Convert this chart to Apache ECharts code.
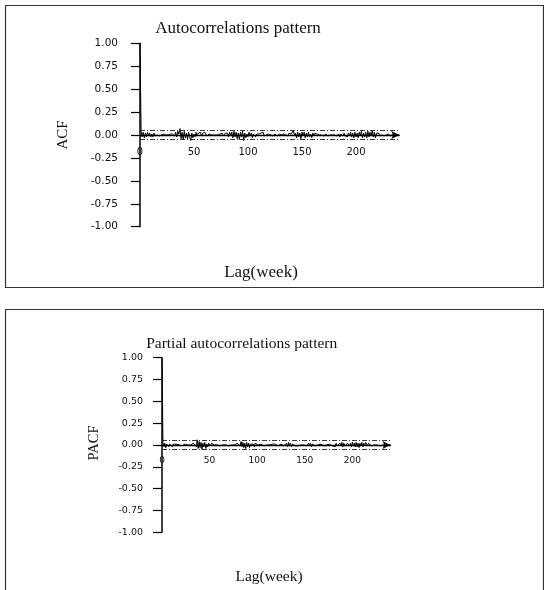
<!DOCTYPE html>
<html>
<head>
<meta charset="utf-8">
<script src="https://cdn.jsdelivr.net/npm/echarts@6/dist/echarts.min.js"></script>
<style>
  html, body { margin: 0; padding: 0; background: #fff; }
  #chart { width: 544px; height: 590px; }
</style>
</head>
<body>
<div id="chart"></div>
<script>
// Sample autocorrelation function, lags 0..240 (weekly data)
const acfValues = [
  1.00,
  0.04, -0.02, 0.03, -0.03, 0.02, -0.02, 0.03, -0.01, 0.02, -0.02,
  0.01, -0.02, 0.02, -0.01, 0.01, 0.00, 0.01, -0.01, 0.01, 0.00,
  0.00, 0.01, -0.01, 0.00, 0.01, 0.00, -0.01, 0.01, 0.00, 0.01,
  0.02, -0.01, 0.03, -0.02, 0.04, 0.01, 0.07, -0.04, 0.03, -0.05,
  0.04, -0.03, 0.02, -0.05, 0.03, -0.02, -0.06, 0.02, -0.03, 0.01,
  -0.02, 0.03, -0.01, 0.02, 0.00, 0.03, -0.01, 0.02, 0.01, 0.03,
  0.01, -0.01, 0.00, 0.01, -0.01, 0.00, 0.01, 0.00, -0.01, 0.00,
  0.01, 0.00, -0.01, 0.01, 0.00, 0.02, -0.01, 0.01, 0.02, 0.01,
  0.02, -0.02, 0.03, -0.01, 0.03, -0.03, 0.04, -0.02, 0.03, -0.04,
  0.02, -0.05, 0.03, -0.02, 0.04, -0.06, 0.02, -0.03, 0.01, -0.02,
  0.03, -0.01, 0.02, -0.03, 0.01, 0.02, -0.02, 0.01, 0.00, 0.01,
  -0.01, 0.02, 0.01, 0.03, -0.01, 0.01, 0.00, -0.01, 0.01, 0.00,
  0.00, 0.01, -0.01, 0.00, 0.01, 0.00, -0.01, 0.00, 0.01, 0.00,
  0.00, -0.01, 0.01, 0.00, 0.00, 0.01, -0.01, 0.02, 0.00, 0.01,
  0.02, 0.05, -0.01, 0.02, -0.03, 0.03, -0.02, 0.02, -0.04, 0.03,
  -0.01, 0.03, -0.03, 0.02, -0.02, 0.03, -0.02, 0.01, -0.03, 0.02,
  -0.01, 0.02, 0.00, 0.01, -0.01, 0.00, 0.01, 0.00, 0.00, -0.01,
  0.00, 0.01, 0.00, -0.01, 0.00, 0.00, 0.01, 0.00, -0.01, 0.00,
  0.01, -0.01, 0.00, 0.01, -0.02, 0.01, 0.00, -0.01, 0.02, -0.01,
  0.01, -0.02, 0.02, -0.01, 0.03, -0.02, 0.02, -0.03, 0.03, -0.02,
  0.02, -0.03, 0.03, -0.01, 0.04, -0.03, 0.02, -0.02, 0.03, -0.03,
  0.04, -0.02, 0.03, -0.01, 0.05, -0.02, 0.03, -0.03, 0.02, 0.01,
  0.02, -0.01, 0.01, 0.00, 0.01, -0.01, 0.01, 0.00, 0.00, 0.01,
  0.00, -0.01, 0.00, 0.01, 0.00, 0.00, -0.01, 0.00, 0.01, 0.00
];

// Sample partial autocorrelation function, lags 0..240
const pacfValues = [
  1.00,
  0.03, -0.02, 0.02, -0.03, 0.01, 0.02, -0.02, 0.01, -0.01, 0.02,
  -0.02, 0.01, 0.00, -0.01, 0.01, 0.00, -0.01, 0.00, 0.01, 0.00,
  -0.01, 0.00, 0.00, 0.01, 0.00, -0.01, 0.00, 0.01, 0.00, 0.00,
  0.01, -0.01, 0.02, 0.00, 0.03, -0.02, 0.06, -0.04, 0.04, -0.03,
  0.03, -0.05, 0.02, -0.02, 0.03, -0.04, 0.01, -0.02, 0.02, 0.00,
  -0.01, 0.02, 0.01, 0.03, 0.00, -0.01, 0.01, 0.00, 0.01, 0.00,
  -0.01, 0.01, 0.00, 0.00, -0.01, 0.01, 0.00, 0.00, 0.01, -0.01,
  0.00, 0.01, 0.00, -0.01, 0.01, 0.00, 0.01, -0.01, 0.02, 0.01,
  0.02, -0.01, 0.04, -0.02, 0.03, -0.03, 0.02, -0.04, 0.03, -0.02,
  0.02, -0.03, 0.01, 0.02, -0.01, 0.01, -0.02, 0.02, 0.01, 0.03,
  0.00, 0.01, -0.01, 0.01, 0.00, 0.00, -0.01, 0.01, 0.00, 0.00,
  0.01, -0.01, 0.00, 0.02, -0.01, 0.01, 0.00, 0.00, 0.01, 0.02,
  0.00, -0.01, 0.01, -0.02, 0.01, 0.00, 0.02, -0.01, 0.01, -0.02,
  0.02, -0.02, 0.03, -0.01, 0.02, -0.02, 0.01, 0.00, 0.01, -0.01,
  0.01, 0.00, -0.01, 0.01, 0.00, 0.00, 0.01, -0.01, 0.00, 0.01,
  0.00, -0.01, 0.01, 0.02, -0.01, 0.02, -0.02, 0.01, 0.00, 0.01,
  -0.01, 0.00, 0.01, 0.00, -0.01, 0.00, 0.01, 0.00, 0.00, -0.01,
  0.00, 0.01, 0.00, 0.00, -0.01, 0.01, 0.00, 0.02, -0.01, 0.01,
  0.00, -0.02, 0.02, -0.01, 0.01, -0.02, 0.02, -0.01, 0.03, -0.02,
  0.02, -0.01, 0.01, -0.02, 0.02, 0.00, -0.01, 0.02, -0.02, 0.03,
  -0.01, 0.02, -0.02, 0.03, -0.02, 0.02, -0.03, 0.02, -0.01, 0.03,
  -0.02, 0.02, -0.01, 0.03, 0.01, -0.01, 0.02, 0.00, 0.01, -0.01,
  0.01, 0.00, 0.00, 0.01, -0.01, 0.00, 0.01, 0.00, -0.01, 0.00,
  0.01, 0.00, 0.00, -0.01, 0.00, 0.01, 0.00, 0.00, 0.00, 0.00
];

// Approximate 95% significance bounds
const confBound = 0.046;

// Axis settings
const lagMax = 240;
const lagTickStep = 50;
const corrTickStep = 0.25;

const toPairs = vals => vals.map((v, i) => [i, v]);

const SERIF = '"Liberation Serif", "Times New Roman", serif';
const SANS = '"DejaVu Sans", sans-serif';

// The lag axis sits on the zero line: shift it up by half the plot height
function xAxisFor(gridIndex, fontSize, margin, halfHeight) {
  return {
    type: 'value', gridIndex: gridIndex, position: 'bottom', offset: -halfHeight,
    min: 0, max: lagMax, interval: lagTickStep,
    axisLine: { onZero: false, symbol: ['none', 'arrow'], symbolSize: [6, 8],
      lineStyle: { color: '#000', width: 1.3 } },
    axisTick: { show: false },
    axisLabel: { color: '#111', fontFamily: SANS, fontSize: fontSize, margin: margin,
      showMaxLabel: false },
    splitLine: { show: false }
  };
}

function yAxisFor(gridIndex, fontSize, margin) {
  return {
    type: 'value', gridIndex: gridIndex,
    min: -1, max: 1, interval: corrTickStep,
    axisLine: { show: true, onZero: false, lineStyle: { color: '#000', width: 1.5 } },
    axisTick: { show: true, length: 9, lineStyle: { color: '#000', width: 1.2 } },
    axisLabel: { color: '#111', fontFamily: SANS, fontSize: fontSize, margin: margin,
      formatter: v => v.toFixed(2) },
    splitLine: { show: false }
  };
}

function corrSeries(idx, values) {
  return {
    type: 'line', xAxisIndex: idx, yAxisIndex: idx,
    data: toPairs(values),
    showSymbol: false, animation: false,
    lineStyle: { color: '#000', width: 1 },
    markLine: {
      silent: true, symbol: ['none', 'none'], animation: false,
      label: { show: false },
      lineStyle: { color: '#222', width: 0.9, type: [5, 2, 1, 2] },
      data: [{ yAxis: confBound }, { yAxis: -confBound }]
    }
  };
}

function label(text, x, y, size, rotate) {
  return {
    type: 'text', x: x, y: y, rotation: rotate ? Math.PI / 2 : 0,
    style: { text: text, fill: '#111', font: size + 'px ' + SERIF,
      textAlign: 'center', textVerticalAlign: 'middle' }
  };
}

const chart = echarts.init(document.getElementById('chart'), null, { renderer: 'canvas' });
chart.setOption({
  backgroundColor: '#fff',
  animation: false,
  grid: [
    { left: 140, top: 43.3, width: 259.2, height: 183.4 },
    { left: 162, top: 357.7, width: 228.4, height: 174.6 }
  ],
  xAxis: [xAxisFor(0, 10, 12, 91.7), xAxisFor(1, 9, 11, 87.3)],
  yAxis: [yAxisFor(0, 10.5, 22), yAxisFor(1, 9.5, 19)],
  series: [corrSeries(0, acfValues), corrSeries(1, pacfValues)],
  graphic: [
    { type: 'rect', shape: { x: 5.5, y: 5.5, width: 538, height: 282 },
      style: { fill: 'none', stroke: '#333', lineWidth: 1.2 } },
    { type: 'rect', shape: { x: 5.5, y: 309.5, width: 538, height: 300 },
      style: { fill: 'none', stroke: '#333', lineWidth: 1.2 } },
    label('Autocorrelations pattern', 238, 29, 17),
    label('ACF', 63, 135, 15, true),
    label('Lag(week)', 261, 273, 17),
    label('Partial autocorrelations pattern', 241.7, 344, 15.5),
    label('PACF', 94, 443, 14.5, true),
    label('Lag(week)', 269, 577, 15.5)
  ]
});
</script>
</body>
</html>
